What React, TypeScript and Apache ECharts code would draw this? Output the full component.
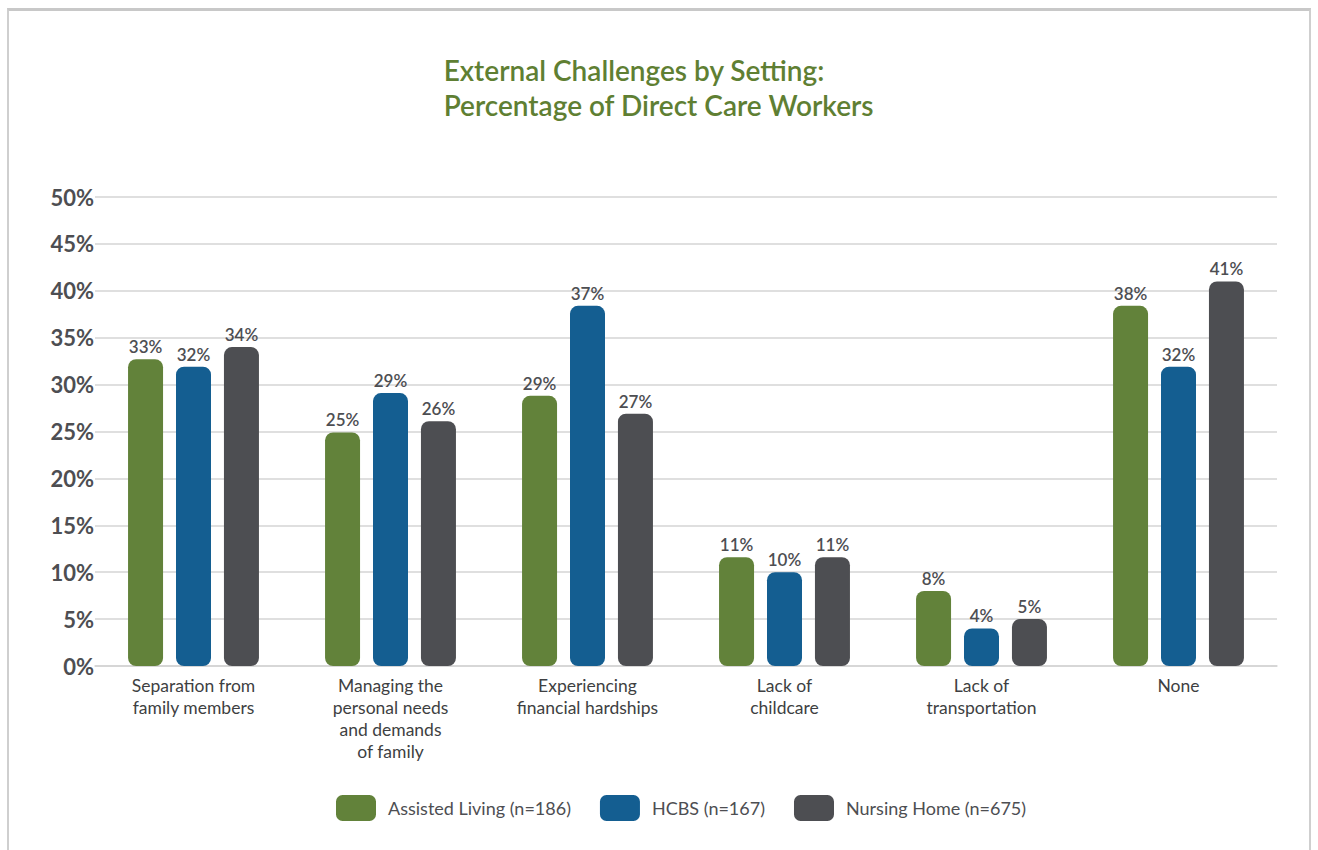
import React, { useEffect, useRef } from "react";
import * as echarts from "echarts";

const categories = [
  "Separation from\nfamily members",
  "Managing the\npersonal needs\nand demands\nof family",
  "Experiencing\nfinancial hardships",
  "Lack of\nchildcare",
  "Lack of\ntransportation",
  "None",
];
const seriesNames = ["Assisted Living (n=186)", "HCBS (n=167)", "Nursing Home (n=675)"];
// bar heights as drawn (%)
const assistedLiving = [32.7, 24.9, 28.8, 11.6, 8.0, 38.4];
const hcbs = [31.9, 29.1, 38.4, 10.0, 4.0, 31.9];
const nursingHome = [34.0, 26.1, 26.9, 11.6, 5.0, 41.0];
// printed labels
const assistedLivingLabels = ["33%", "25%", "29%", "11%", "8%", "38%"];
const hcbsLabels = ["32%", "29%", "37%", "10%", "4%", "32%"];
const nursingHomeLabels = ["34%", "26%", "27%", "11%", "5%", "41%"];
const yTicks = [0, 5, 10, 15, 20, 25, 30, 35, 40, 45, 50];
const titleText = "External Challenges by Setting:\nPercentage of Direct Care Workers";

const colors = ["#62823A", "#145E91", "#4D4E52"];
const FONT = "Lato, 'Noto Sans', sans-serif";

export default function App() {
  const ref = useRef<HTMLDivElement>(null);
  useEffect(() => {
    if (!ref.current) return;
    const chart = echarts.init(ref.current, null, { renderer: "svg" });
    const values = [assistedLiving, hcbs, nursingHome];
    const labels = [assistedLivingLabels, hcbsLabels, nursingHomeLabels];
    chart.setOption({
      animation: false,
      textStyle: { fontFamily: FONT },
      graphic: [
        {
          type: "text",
          left: "center",
          top: 41,
          style: {
            text: titleText,
            align: "center",
            fontFamily: FONT,
            fontSize: 28,
            fontWeight: 600,
            fill: "#5F7F33",
            lineHeight: 35,
          },
        },
      ],
      legend: {
        left: 322,
        top: 779,
        icon: "roundRect",
        itemWidth: 40,
        itemHeight: 26,
        itemGap: 29,
        textStyle: { fontFamily: FONT, fontSize: 18, color: "#4D4E52", padding: [0, 0, 0, 7] },
        data: seriesNames,
      },
      grid: { left: 86, right: 32, top: 186, bottom: 184, containLabel: false },
      xAxis: {
        type: "category",
        data: categories,
        axisTick: { show: false },
        axisLine: { show: true, lineStyle: { color: "#D4D4D4", width: 1.5 } },
        axisLabel: {
          interval: 0,
          margin: 8,
          fontFamily: FONT,
          fontSize: 17.5,
          lineHeight: 22,
          color: "#3E3F42",
        },
      },
      yAxis: {
        type: "value",
        min: yTicks[0],
        max: yTicks[yTicks.length - 1],
        interval: 5,
        axisLine: { show: false },
        axisTick: { show: false },
        splitLine: { lineStyle: { color: "#D4D4D4", width: 1.5 } },
        axisLabel: {
          formatter: (v: number) => `${v}%`,
          margin: 1,
          fontFamily: FONT,
          fontSize: 22,
          fontWeight: "bold",
          color: "#4D4E52",
        },
      },
      series: seriesNames.map((name, i) => ({
        name,
        type: "bar",
        data: values[i],
        barWidth: 35,
        barGap: "37%",
        itemStyle: { color: colors[i], borderRadius: 8 },
        label: {
          show: true,
          position: "top",
          distance: 4,
          fontFamily: FONT,
          fontSize: 17,
          fontWeight: 600,
          color: "#4D4E52",
          formatter: (p: any) => labels[i][p.dataIndex],
        },
      })),
    });
    return () => chart.dispose();
  }, []);
  return (
    <div
      style={{
        position: "absolute",
        left: 7,
        top: 8,
        width: 1304,
        height: 842,
        boxSizing: "border-box",
        borderLeft: "2px solid #CFCFCF",
        borderRight: "2px solid #CFCFCF",
        borderTop: "3px solid #C8C8C8",
        background: "#fff",
      }}
    >
      <div ref={ref} style={{ width: 1300, height: 839 }} />
    </div>
  );
}
